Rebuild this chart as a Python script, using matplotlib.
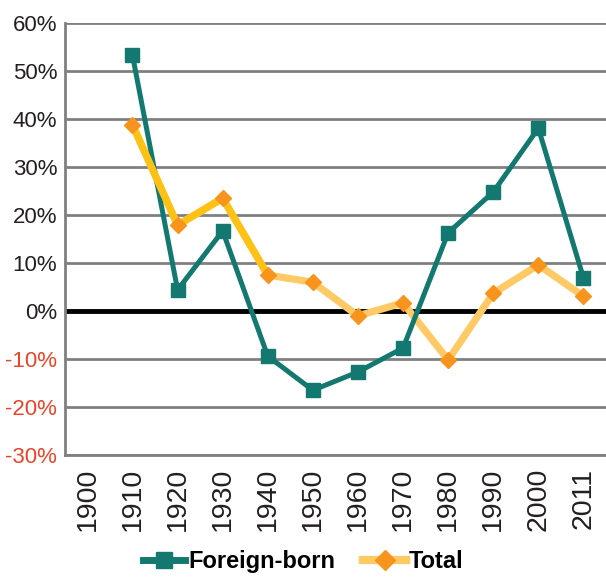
import matplotlib
matplotlib.use("Agg")
import matplotlib.pyplot as plt
from matplotlib.ticker import FuncFormatter

plt.rcParams['font.family'] = ['Liberation Sans', 'DejaVu Sans']

years = ["1900", "1910", "1920", "1930", "1940", "1950", "1960", "1970", "1980", "1990", "2000", "2011"]
foreign_born = [53.3, 4.4, 16.7, -9.4, -16.5, -12.7, -7.7, 16.3, 24.8, 38.1, 6.9]
total = [38.8, 17.9, 23.5, 7.5, 6.0, -1.0, 1.7, -10.2, 3.7, 9.6, 3.1]

TEAL = "#137970"
LIGHT = "#FFCA66"
DARK = "#FFC114"
MARK = "#F7941D"

fig = plt.figure(figsize=(6.06, 5.77), dpi=100)
ax = fig.add_axes([0.107, 0.2114, 0.893, 0.7486])

x = list(range(1, len(years)))

ax.plot(x, total, color=LIGHT, lw=5.2, solid_capstyle="butt", zorder=3)
ax.plot(x, foreign_born, color=TEAL, lw=3.6, marker="s", ms=9.5, mfc=TEAL, mec=TEAL, zorder=4)
ax.plot(x[:4], total[:4], color=DARK, lw=5.2, zorder=5)
ax.plot(x, total, lw=0, marker="D", ms=8.5, mfc=MARK, mec=MARK, zorder=6)

# legend proxies
h1, = ax.plot([], [], color=TEAL, lw=5, marker="s", ms=11, mfc=TEAL, mec=TEAL)
h2, = ax.plot([], [], color=LIGHT, lw=6, marker="D", ms=10, mfc=MARK, mec=MARK)
fig.legend([h1, h2], ["Foreign-born", "Total"], loc="center", bbox_to_anchor=(0.5, 0.026), ncol=2,
           frameon=False, handlelength=1.8, handletextpad=0.12, columnspacing=1.2,
           prop={"weight": "bold", "size": 17})

ax.set_xlim(-0.5, 11.5)
ax.set_ylim(-30, 60)
ax.set_yticks(range(-30, 61, 10))
ax.yaxis.set_major_formatter(FuncFormatter(lambda v, p: f"{int(v)}%"))
ax.set_xticks(range(len(years)))
ax.set_xticklabels(years, rotation=90)
ax.tick_params(length=0)
ax.tick_params(axis="y", labelsize=16, pad=5.5)
ax.tick_params(axis="x", labelsize=20.5, pad=9)
for lbl, v in zip(ax.get_yticklabels(), range(-30, 61, 10)):
    lbl.set_color("#E8442A" if v < 0 else "#231F20")
for lbl in ax.get_xticklabels():
    lbl.set_color("#231F20")

ax.grid(axis="y", color="#808080", lw=2)
ax.set_axisbelow(True)
ax.axhline(0, color="black", lw=3.5, zorder=2)
for s in ["top", "right"]:
    ax.spines[s].set_visible(False)
for s in ["left", "bottom"]:
    ax.spines[s].set_color("#808080")
    ax.spines[s].set_linewidth(2)

fig.savefig("out.png", dpi=100)
